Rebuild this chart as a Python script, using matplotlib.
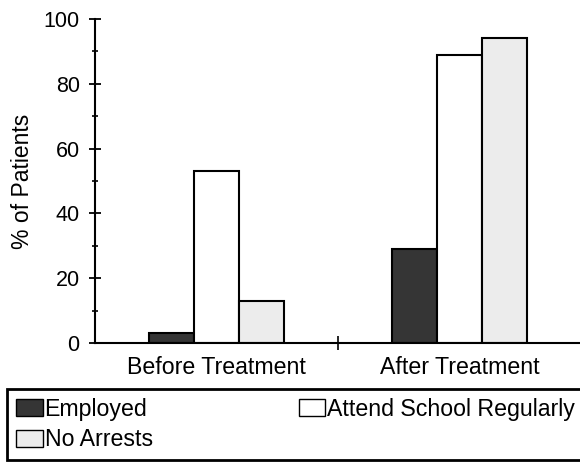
import matplotlib
matplotlib.use("Agg")
import matplotlib.pyplot as plt
import numpy as np

plt.rcParams['font.family'] = ['Liberation Sans', 'DejaVu Sans']

# -----------------------------
# Data
# -----------------------------
periods = ["Before Treatment", "After Treatment"]
series_names = ["Employed", "Attend School Regularly", "No Arrests"]
employed = [3, 29]
attend_school = [53, 89]
no_arrests = [13, 94]
bar_colors = ["#353535", "#ffffff", "#ececec"]

fig = plt.figure(figsize=(5.8, 4.66), dpi=100)
ax = fig.add_axes([95 / 580, 1 - 343 / 466, 486 / 580, 324 / 466])

x = np.arange(len(periods))
width = 0.185
handles = {}
for i, (name, vals, col) in enumerate(zip(series_names, [employed, attend_school, no_arrests], bar_colors)):
    handles[name] = ax.bar(x + (i - 1) * width, vals, width, color=col,
                           edgecolor="black", linewidth=1.5, label=name)

ax.set_xlim(-0.5, 1.5)
ax.set_ylim(0, 100)

# y axis: majors every 20, minors in between
ax.set_yticks(np.arange(0, 101, 20))
ax.set_yticks(np.arange(10, 100, 20), minor=True)
ax.tick_params(axis="y", which="major", direction="inout", length=8, width=1.3,
               labelsize=15.5, pad=7)
ax.tick_params(axis="y", which="minor", direction="inout", length=5, width=1.2)

# x axis: divider tick between groups, labels under group centres
ax.set_xticks([0.5])
ax.set_xticklabels([""])
ax.set_xticks(x, minor=True)
ax.set_xticklabels(periods, minor=True)
ax.tick_params(axis="x", which="major", direction="inout", length=10, width=1.2)
ax.tick_params(axis="x", which="minor", length=0, labelsize=16.7, pad=9)

for side in ["top", "right"]:
    ax.spines[side].set_visible(False)
for side in ["left", "bottom"]:
    ax.spines[side].set_linewidth(1.5)

ax.set_ylabel("% of Patients", fontsize=16.5)
ax.yaxis.set_label_coords(-0.126, 0.5)

order = ["Employed", "No Arrests", "Attend School Regularly"]
leg = fig.legend([handles[n] for n in order], order, ncol=2, mode="expand",
                 loc="upper left",
                 bbox_to_anchor=(7 / 580, 1 - 461 / 466, 577 / 580, 72 / 466),
                 borderaxespad=0, borderpad=0.38, labelspacing=0.33,
                 handlelength=1.16, handleheight=0.75, handletextpad=0.08,
                 fontsize=16.7, fancybox=False, framealpha=1)
leg.get_frame().set_edgecolor("black")
leg.get_frame().set_linewidth(2)
for h in leg.legend_handles:
    h.set_linewidth(1.0)

fig.savefig("out.png", dpi=100)
